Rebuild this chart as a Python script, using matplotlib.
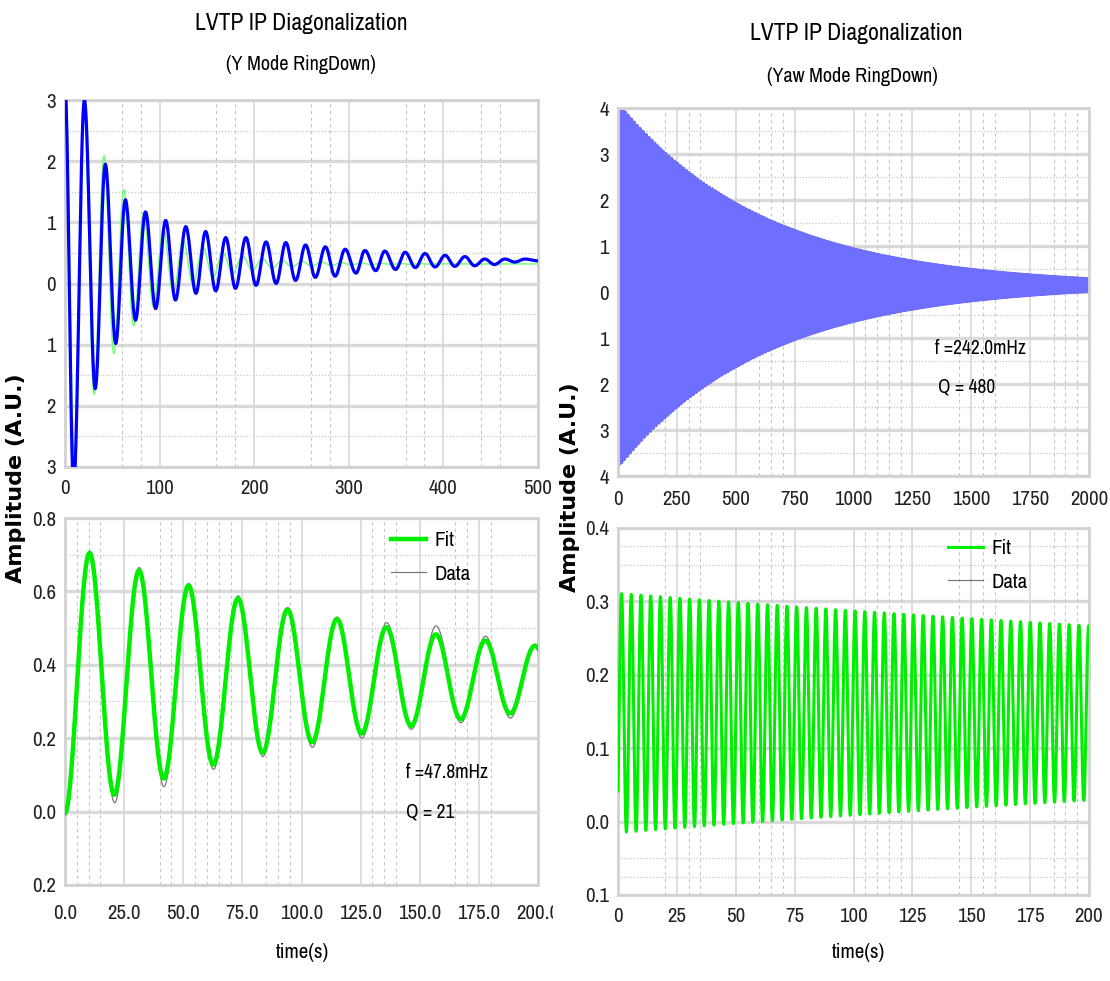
import numpy as np
import matplotlib
matplotlib.use("Agg")
import matplotlib.pyplot as plt
from matplotlib import font_manager as fm
from matplotlib.transforms import Bbox

# prefer the most condensed sans face the system offers
_rank = {"extra-condensed": 0, "condensed": 1, "semi-condensed": 2}
_narrow = []
for f in fm.fontManager.ttflist:
    if f.style != "normal" or "Mono" in f.name or "Serif" in f.name:
        continue
    if f.weight not in (400, "normal", "regular", "book"):
        continue
    if "Narrow" in f.name:
        _narrow.append((0, f))
    elif str(f.stretch) in _rank:
        _narrow.append((_rank[str(f.stretch)] + 1, f))
_narrow.sort(key=lambda p: p[0])
if _narrow:
    _face = _narrow[0][1]
    plt.rcParams["font.family"] = [_face.name, "Liberation Sans", "DejaVu Sans"]
    plt.rcParams["font.stretch"] = _face.stretch
    NARROW = True
else:
    plt.rcParams["font.family"] = ["Liberation Sans", "DejaVu Sans"]
    NARROW = False

# ---- Y mode ringdown (full record): peaks / troughs of the measured trace ----
y_ext_t = [0.0, 9.1, 20.5, 31.9, 42.6, 53.6, 63.8, 74.5, 85.1, 95.8, 106.4, 116.7,
           127.7, 138.4, 148.6, 159.3, 169.9, 180.2, 191.2, 201.9, 212.5, 223.2,
           233.4, 243.7, 254.3, 264.6, 275.2, 285.5, 296.1, 307.6, 317.0, 328.5,
           338.0, 349.4, 359.6, 370.3, 380.5, 391.2, 401.8, 412.1, 422.7, 433.0,
           443.7, 453.9, 465.0, 475.5, 486.0, 500.0]
y_ext_v = [3.2, -3.3, 3.0, -1.72, 1.95, -0.98, 1.37, -0.60, 1.17, -0.41, 1.03, -0.27,
           0.93, -0.16, 0.85, -0.12, 0.75, -0.08, 0.75, -0.03, 0.68, 0.00,
           0.67, 0.05, 0.63, 0.10, 0.60, 0.12, 0.56, 0.17, 0.54, 0.21,
           0.53, 0.23, 0.51, 0.26, 0.49, 0.27, 0.46, 0.28, 0.44, 0.29,
           0.40, 0.31, 0.40, 0.35, 0.40, 0.37]
# single-mode fit overlaid on the full record
y_full_tau = 56.0
y_full_amp = 3.7
y_full_off = 0.32
y_full_tpk = 20.5

# ---- Y mode ringdown (first 200 s): fit parameters and measured extrema ----
y_f_mhz = 47.8
y_q = 21
y_amp = 0.368
y_off = 0.363
y_data_t = [0.0, 10.5, 21.0, 31.4, 41.8, 52.3, 62.8, 73.2, 83.7, 94.1, 104.6,
            115.1, 125.5, 136.0, 146.4, 156.9, 167.4, 177.8, 188.3, 198.7, 200.0]
y_data_v = [-0.005, 0.71, 0.024, 0.665, 0.068, 0.622, 0.115, 0.588, 0.150, 0.556,
            0.175, 0.530, 0.200, 0.515, 0.224, 0.506, 0.242, 0.478, 0.255, 0.456, 0.455]

# ---- Yaw mode ringdown ----
yaw_f_mhz = 242.0
yaw_q = 480
yaw_full_amp = 4.0
yaw_full_off = 0.15
yaw_amp = 0.163
yaw_off = 0.148
yaw_tpk = 1.5

FS_TICK = 15 if NARROW else 13.5
FS_TEXT = 14 if NARROW else 12.5
FS_TITLE = 17 if NARROW else 15.5
FS_SUB = 14.5 if NARROW else 13


def ringdown(t, f_hz, tau, amp, off, tpk):
    return off + amp * np.exp(-t / tau) * np.cos(2 * np.pi * f_hz * (t - tpk))


def through_extrema(ts, vs, n=40):
    # smooth half-cosine swing from one turning point to the next
    tt, vv = [], []
    for i in range(len(ts) - 1):
        s = np.linspace(0, 1, n, endpoint=False)
        tt.append(ts[i] + (ts[i + 1] - ts[i]) * s)
        vv.append(vs[i] + (vs[i + 1] - vs[i]) * (1 - np.cos(np.pi * s)) / 2)
    tt.append([ts[-1]])
    vv.append([vs[-1]])
    return np.concatenate(tt), np.concatenate(vv)


W, H = 1110, 981
fig = plt.figure(figsize=(W / 100, H / 100), dpi=100)


def add_axes(x0, x1, ytop, ybot):
    return fig.add_axes([x0 / W, 1 - ybot / H, (x1 - x0) / W, (ybot - ytop) / H])


def style(ax, xlim, ylim, xmaj, xmin, ymaj, ymin, xlabels, yfmt, xpad):
    ax.set_xlim(*xlim)
    ax.set_ylim(*ylim)
    for y in ymaj:
        ax.axhline(y, color="#dadada", lw=2.4, zorder=0)
    for y in ymin:
        ax.axhline(y, color="#c6c6c6", lw=0.9, ls=(0, (1, 1.5)), zorder=0)
    for x in xmaj:
        ax.axvline(x, color="#d4d4d4", lw=1.1, zorder=0)
    for x in xmin:
        ax.axvline(x, color="#c6c6c6", lw=0.8, ls=(0, (3, 3)), zorder=0)
    ax.set_xticks(xmaj)
    ax.set_xticklabels(xlabels)
    ax.set_yticks(ymaj)
    # the axis prints magnitudes only
    ax.set_yticklabels([yfmt.format(abs(v)) for v in ymaj])
    ax.tick_params(length=0, labelsize=FS_TICK, colors="#222222")
    ax.tick_params(axis="x", pad=xpad)
    ax.tick_params(axis="y", pad=6.5)
    for sp in ax.spines.values():
        sp.set_color("#d2d2d2")
        sp.set_linewidth(2)
        sp.set_linestyle((0, (1, 1)))


# ---------------- top left: Y mode full record ----------------
ax1 = add_axes(65, 538, 100, 467)
t1, v1 = through_extrema(y_ext_t, y_ext_v)
tf1 = np.linspace(0, 500, 3000)
ax1.plot(tf1, ringdown(tf1, y_f_mhz * 1e-3, y_full_tau, y_full_amp, y_full_off, y_full_tpk),
         color="#70ff70", lw=1.0, zorder=2)
ax1.plot(t1, v1, color="#0000ff", lw=2.3, zorder=3)
style(ax1, (0, 500), (-3, 3), np.arange(0, 501, 100),
      [60, 80, 160, 180, 260, 280, 360, 380, 440, 460],
      np.arange(-3, 4, 1), np.arange(-2.5, 3, 1.0),
      [str(v) for v in range(0, 501, 100)], "{:.0f}", 9)

# ---------------- bottom left: Y mode first 200 s ----------------
ax2 = add_axes(65, 538, 518, 885)
t2 = np.linspace(0, 200, 2000)
fit2 = ringdown(t2, y_f_mhz * 1e-3, y_q / (np.pi * y_f_mhz * 1e-3), y_amp, y_off,
                0.5 / (y_f_mhz * 1e-3))
td2, vd2 = through_extrema(y_data_t, y_data_v)
data_line2, = ax2.plot(td2, vd2, color="#7a7a7a", lw=0.9, zorder=2, label="Data")
fit_line2, = ax2.plot(t2, fit2, color="#00ee00", lw=3.2, zorder=3, label="Fit")
style(ax2, (0, 200), (-0.2, 0.8), np.arange(0, 201, 25),
      [5, 10, 15, 40, 45, 55, 60, 65, 70, 85, 90, 95, 130, 135, 140, 165, 170, 180],
      np.round(np.arange(-0.2, 0.81, 0.2), 1), [0.3, 0.5, 0.7],
      [f"{v:.1f}" for v in np.arange(0, 201, 25)], "{:.1f}", 14)
ax2.legend(handles=[fit_line2, data_line2], loc="upper left",
           bbox_to_anchor=(391 / W, 1 - 531 / H), bbox_transform=fig.transFigure,
           frameon=False, borderpad=0, borderaxespad=0, handlelength=1.7,
           handletextpad=0.4, labelspacing=0.7, fontsize=FS_TEXT + 1)
fig.text(406 / W, 1 - 772 / H, f"f ={y_f_mhz:.1f}mHz", fontsize=FS_TEXT, va="center")
fig.text(406 / W, 1 - 812 / H, f"Q = {y_q}", fontsize=FS_TEXT, va="center")

# ---------------- top right: Yaw mode full record ----------------
ax3 = add_axes(618, 1089, 108, 476)
t3 = np.arange(0, 2000.01, 0.2)
ax3.plot(t3, ringdown(t3, yaw_f_mhz * 1e-3, yaw_q / (np.pi * yaw_f_mhz * 1e-3),
                      yaw_full_amp, yaw_full_off, 0.0),
         color="#6e6eff", lw=0.5, zorder=2)
style(ax3, (0, 2000), (-4, 4), np.arange(0, 2001, 250),
      [200, 300, 350, 600, 650, 700, 1050, 1100, 1150, 1200, 1450, 1550, 1600,
       1850, 1900, 1950],
      np.arange(-4, 5, 1), np.arange(-3.5, 4, 1.0),
      [str(v) for v in range(0, 2001, 250)], "{:.0f}", 10)
fig.text(935 / W, 1 - 349 / H, f"f ={yaw_f_mhz:.1f}mHz", fontsize=FS_TEXT, va="center")
fig.text(938 / W, 1 - 387 / H, f"Q = {yaw_q}", fontsize=FS_TEXT, va="center")

# ---------------- bottom right: Yaw mode first 200 s ----------------
ax4 = add_axes(618, 1089, 528, 895)
t4 = np.arange(0, 200.001, 0.04)
fit4 = ringdown(t4, yaw_f_mhz * 1e-3, yaw_q / (np.pi * yaw_f_mhz * 1e-3),
                yaw_amp, yaw_off, yaw_tpk)
data4 = fit4
data_line4, = ax4.plot(t4, data4, color="#7a7a7a", lw=0.9, zorder=2, label="Data")
fit_line4, = ax4.plot(t4, fit4, color="#00ee00", lw=2.2, zorder=3, label="Fit")
style(ax4, (0, 200), (-0.1, 0.4), np.arange(0, 201, 25),
      [20, 30, 35, 60, 65, 70, 105, 110, 115, 120, 145, 155, 160, 185, 190, 195],
      np.round(np.arange(-0.1, 0.41, 0.1), 1), [-0.075, -0.05, 0.175, 0.35, 0.375],
      [str(v) for v in range(0, 201, 25)], "{:.1f}", 8.5)
ax4.legend(handles=[fit_line4, data_line4], loc="upper left",
           bbox_to_anchor=(948 / W, 1 - 539 / H), bbox_transform=fig.transFigure,
           frameon=False, borderpad=0, borderaxespad=0, handlelength=1.7,
           handletextpad=0.4, labelspacing=0.7, fontsize=FS_TEXT + 1)

# ---------------- titles and shared labels ----------------
fig.text(301 / W, 1 - 23 / H, "LVTP IP Diagonalization", fontsize=FS_TITLE, ha="center", va="center")
fig.text(301 / W, 1 - 65 / H, "(Y Mode RingDown)", fontsize=FS_SUB, ha="center", va="center")
fig.text(856 / W, 1 - 33 / H, "LVTP IP Diagonalization", fontsize=FS_TITLE, ha="center", va="center")
fig.text(852 / W, 1 - 77 / H, "(Yaw Mode RingDown)", fontsize=FS_SUB, ha="center", va="center")
for xc, yc in ((16, 478), (570, 487)):
    fig.text(xc / W, 1 - yc / H, "Amplitude (A.U.)", rotation=90, ha="center", va="center",
             fontsize=16, fontweight="bold", family="DejaVu Sans", fontstretch="normal")
fig.text(302 / W, 1 - 952 / H, "time(s)", fontsize=FS_TEXT + 1, ha="center", va="center")
fig.text(858 / W, 1 - 952 / H, "time(s)", fontsize=FS_TEXT + 1, ha="center", va="center")

# last time label of the left panel runs into the right-hand panel
last = ax2.xaxis.get_major_ticks()[-1].label1
last.set_clip_on(True)
last.set_clip_box(Bbox.from_extents(0, 0, 553, H))

fig.savefig("out.png", dpi=100)
